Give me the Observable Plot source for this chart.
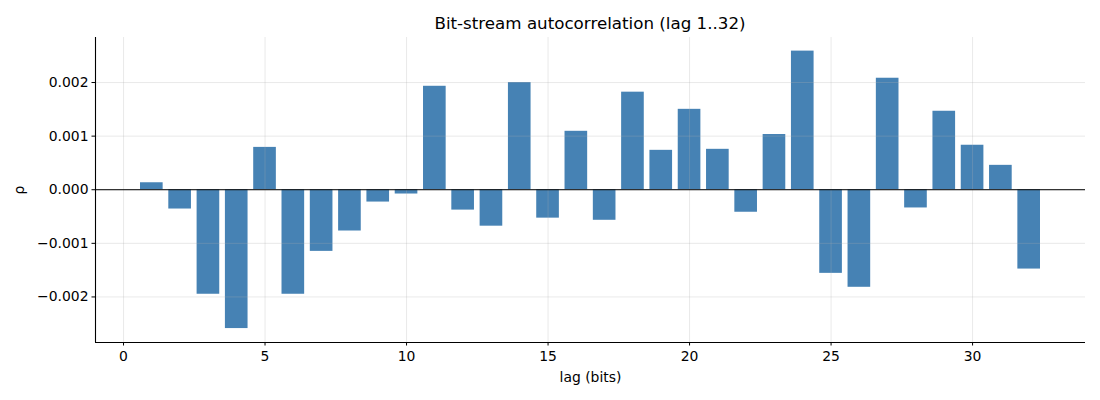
<!DOCTYPE html>
<html>
<head>
<meta charset="utf-8">
<script src="https://cdn.jsdelivr.net/npm/d3@7"></script>
<script src="https://cdn.jsdelivr.net/npm/@observablehq/plot@0.6"></script>
<style>
  body { margin: 0; background: #fff; font-family: "DejaVu Sans", sans-serif; }
  #title { box-sizing: border-box; width: 1100px; height: 37px; padding: 13px 15px 0 95px;
           text-align: center; font-size: 16.7px; line-height: 20px; color: #000; }
  svg { display: block; }
</style>
</head>
<body>
<div id="title">Bit-stream autocorrelation (lag 1..32)</div>
<div id="chart"></div>
<script>
const lags = [1,2,3,4,5,6,7,8,9,10,11,12,13,14,15,16,17,18,19,20,21,22,23,24,25,26,27,28,29,30,31,32];
const rho = [0.00013,-0.00036,-0.00195,-0.00259,0.00079,-0.00195,-0.00115,-0.00077,-0.00023,-0.00008,
             0.00193,-0.00038,-0.00068,0.00200,-0.00053,0.00109,-0.00057,0.00182,0.000735,0.00150,
             0.000754,-0.00042,0.00103,0.002586,-0.00156,-0.00182,0.00208,-0.00034,0.001464,0.00083,
             0.000455,-0.00148];
const xTicks = [0,5,10,15,20,25,30];
const yTicks = [-0.002,-0.001,0,0.001,0.002];
const xDomain = [-0.99, 33.99];
const yDomain = [-0.00285, 0.00284];
const barWidth = 0.8;

const data = lags.map((lag, i) => ({lag, rho: rho[i]}));

const chart = Plot.plot({
  width: 1100,
  height: 363,
  marginLeft: 95,
  marginRight: 15,
  marginTop: 0,
  marginBottom: 58,
  style: {fontFamily: "DejaVu Sans, sans-serif", fontSize: "13.9px", color: "#000", background: "#fff"},
  x: {domain: xDomain},
  y: {domain: yDomain},
  marks: [
    Plot.rectY(data, {x1: d => d.lag - barWidth/2, x2: d => d.lag + barWidth/2, y1: 0, y2: "rho", fill: "#4682b4"}),
    Plot.gridX(xTicks, {stroke: "#b0b0b0", strokeOpacity: 0.35, strokeWidth: 0.8}),
    Plot.gridY(yTicks, {stroke: "#b0b0b0", strokeOpacity: 0.35, strokeWidth: 0.8}),
    Plot.ruleY([0], {stroke: "#000", strokeWidth: 1}),
    Plot.ruleX([xDomain[0]], {stroke: "#000", strokeWidth: 1.1}),
    Plot.ruleY([yDomain[0]], {stroke: "#000", strokeWidth: 1.1}),
    Plot.axisX({ticks: xTicks, tickSize: 3.5, tickPadding: 5, tickFormat: d3.format("d"),
                label: "lag (bits)", labelAnchor: "center", labelArrow: "none", labelOffset: 39, fontSize: 13.9}),
    Plot.axisY({ticks: yTicks, tickSize: 3.5, tickPadding: 3.5, tickFormat: d3.format(".3f"),
                label: "ρ", labelAnchor: "center", labelArrow: "none", labelOffset: 81, fontSize: 13.9})
  ]
});
document.getElementById("chart").appendChild(chart);
</script>
</body>
</html>
